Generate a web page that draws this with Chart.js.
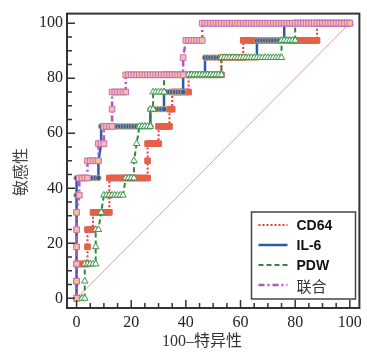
<!DOCTYPE html>
<html>
<head>
<meta charset="utf-8">
<script src="https://cdn.jsdelivr.net/npm/chart.js@4.4.1/dist/chart.umd.min.js"></script>
<style>
  html, body { margin: 0; padding: 0; background: #fff; }
  #wrap { width: 367px; height: 352px; }
</style>
</head>
<body>
<div id="wrap"><canvas id="roc" width="367" height="352"></canvas></div>
<script>
// axis ticks (both axes use the same 0-100 scale)
const tickLabels = [0, 20, 40, 60, 80, 100];
const minorTicks = [0, 5, 10, 15, 20, 25, 30, 35, 40, 45, 50, 55, 60, 65, 70, 75, 80, 85, 90, 95, 100];

const seriesNames = ['CD64', 'IL-6', 'PDW', '联合'];
const xTitle = '100–特异性';
const yTitle = '敏感性';

// ROC points: [100-specificity, sensitivity]
const cd64Roc = [
  [0,0],[0,6.25],[0,12.5],[1,12.5],[2,12.5],[3,12.5],[4,12.5],
  [4,18.75],[4,25],[5,25],[6,25],
  [6,31.25],[7,31.25],[8,31.25],[9,31.25],[10,31.25],[11,31.25],[12,31.25],
  [12,37.5],[12,43.75],[13,43.75],[14,43.75],[15,43.75],[16,43.75],[17,43.75],[18,43.75],[19,43.75],
  [20,43.75],[21,43.75],[22,43.75],[23,43.75],[24,43.75],[25,43.75],[26,43.75],
  [26,50],[26,56.25],[27,56.25],[28,56.25],[29,56.25],[30,56.25],
  [30,62.5],[31,62.5],[32,62.5],[33,62.5],[34,62.5],
  [34,68.75],[35,68.75],
  [35,75],[36,75],[37,75],[38,75],[39,75],[40,75],[41,75],
  [41,81.25],[42,81.25],[43,81.25],[44,81.25],[45,81.25],[46,81.25],[47,81.25],[48,81.25],[49,81.25],
  [50,81.25],[51,81.25],[52,81.25],[53,81.25],
  [53,87.5],[54,87.5],[55,87.5],[56,87.5],[57,87.5],[58,87.5],[59,87.5],[60,87.5],[61,87.5],
  [61,93.75],[62,93.75],[63,93.75],[64,93.75],[65,93.75],[66,93.75],[67,93.75],[68,93.75],[69,93.75],
  [70,93.75],[71,93.75],[72,93.75],[73,93.75],[74,93.75],[75,93.75],[76,93.75],[77,93.75],[78,93.75],
  [79,93.75],[80,93.75],[81,93.75],[82,93.75],[83,93.75],[84,93.75],[85,93.75],[86,93.75],[87,93.75],[88,93.75],
  [88,100],[89,100],[90,100],[91,100],[92,100],[93,100],[94,100],[95,100],[96,100],[97,100],[98,100],[99,100],[100,100]
];

const il6Roc = [
  [0,0],[0,6.25],[0,12.5],[0,18.75],[0,25],[0,31.25],[0,37.5],[0,43.75],
  [1,43.75],[2,43.75],[3,43.75],[4,43.75],[5,43.75],[6,43.75],[7,43.75],[8,43.75],
  [8,50],[9,56.25],[9,62.5],
  [10,62.5],[11,62.5],[12,62.5],[13,62.5],[14,62.5],[15,62.5],[16,62.5],[17,62.5],[18,62.5],
  [19,62.5],[20,62.5],[21,62.5],[22,62.5],[23,62.5],[24,62.5],[25,62.5],[26,62.5],[27,62.5],
  [27,68.75],[28,68.75],[29,68.75],[30,68.75],[31,68.75],[32,68.75],
  [32,75],[33,75],[34,75],[35,75],[36,75],[37,75],[38,75],[39,75],
  [39,81.25],[40,81.25],[41,81.25],[42,81.25],[43,81.25],[44,81.25],[45,81.25],[46,81.25],[47,81.25],
  [47,87.5],[48,87.5],[49,87.5],[50,87.5],[51,87.5],[52,87.5],[53,87.5],[54,87.5],[55,87.5],[56,87.5],
  [57,87.5],[58,87.5],[59,87.5],[60,87.5],[61,87.5],[62,87.5],[63,87.5],[64,87.5],[65,87.5],[66,87.5],
  [66,93.75],[67,93.75],[68,93.75],[69,93.75],[70,93.75],[71,93.75],[72,93.75],[73,93.75],[74,93.75],[75,93.75],[76,93.75],
  [76,100],[77,100],[78,100],[79,100],[80,100],[81,100],[82,100],[83,100],[84,100],[85,100],[86,100],[87,100],
  [88,100],[89,100],[90,100],[91,100],[92,100],[93,100],[94,100],[95,100],[96,100],[97,100],[98,100],[99,100],[100,100]
];

const pdwRoc = [
  [0,0],[1,0],[2,0],[3,0],[3,6.25],[3,12.5],[4,12.5],[5,12.5],[6,12.5],[7,12.5],
  [7,18.75],[7,25],[8,25],[9,31.25],
  [10,37.5],[11,37.5],[12,37.5],[13,37.5],[14,37.5],[15,37.5],[16,37.5],[17,37.5],
  [18,43.75],[19,43.75],[20,43.75],[21,43.75],
  [21,50],[22,56.25],[23,62.5],[24,62.5],[25,62.5],[26,62.5],[27,62.5],
  [27,68.75],[28,68.75],[28,75],[29,75],[30,75],[31,75],[32,75],
  [32,81.25],[33,81.25],[34,81.25],[35,81.25],[36,81.25],[37,81.25],[38,81.25],[39,81.25],[40,81.25],
  [41,81.25],[42,81.25],[43,81.25],[44,81.25],[45,81.25],[46,81.25],[47,81.25],[48,81.25],[49,81.25],
  [50,81.25],[51,81.25],[52,81.25],[53,81.25],
  [53,87.5],[54,87.5],[55,87.5],[56,87.5],[57,87.5],[58,87.5],[59,87.5],[60,87.5],[61,87.5],[62,87.5],
  [63,87.5],[64,87.5],[65,87.5],[66,87.5],[67,87.5],[68,87.5],[69,87.5],[70,87.5],[71,87.5],[72,87.5],
  [73,87.5],[74,87.5],[75,87.5],
  [75,93.75],[76,93.75],[77,93.75],[78,93.75],[79,93.75],[80,93.75],
  [80,100],[81,100],[82,100],[83,100],[84,100],[85,100],[86,100],[87,100],[88,100],[89,100],[90,100],
  [91,100],[92,100],[93,100],[94,100],[95,100],[96,100],[97,100],[98,100],[99,100],[100,100]
];

const combinedRoc = [
  [0,0],[0,6.25],[0,12.5],[0,18.75],[0,25],[0,31.25],
  [1,37.5],[1,43.75],[2,43.75],[3,43.75],[4,43.75],
  [4,50],[5,50],[6,50],[7,50],[8,50],
  [8,56.25],[9,56.25],[10,56.25],
  [10,62.5],[11,62.5],[12,62.5],[13,62.5],
  [13,68.75],
  [13,75],[14,75],[15,75],[16,75],[17,75],[18,75],
  [18,81.25],[19,81.25],[20,81.25],[21,81.25],[22,81.25],[23,81.25],[24,81.25],[25,81.25],[26,81.25],
  [27,81.25],[28,81.25],[29,81.25],[30,81.25],[31,81.25],[32,81.25],[33,81.25],[34,81.25],[35,81.25],
  [36,81.25],[37,81.25],[38,81.25],[39,81.25],
  [39,87.5],
  [40,93.75],[41,93.75],[42,93.75],[43,93.75],[44,93.75],[45,93.75],[46,93.75],
  [46,100],[47,100],[48,100],[49,100],[50,100],[51,100],[52,100],[53,100],[54,100],[55,100],[56,100],
  [57,100],[58,100],[59,100],[60,100],[61,100],[62,100],[63,100],[64,100],[65,100],[66,100],[67,100],
  [68,100],[69,100],[70,100],[71,100],[72,100],[73,100],[74,100],[75,100],[76,100],[77,100],[78,100],
  [79,100],[80,100],[81,100],[82,100],[83,100],[84,100],[85,100],[86,100],[87,100],[88,100],[89,100],
  [90,100],[91,100],[92,100],[93,100],[94,100],[95,100],[96,100],[97,100],[98,100],[99,100],[100,100]
];

const refLine = [[0,0],[100,100]];

const toXY = pts => pts.map(p => ({ x: p[0], y: p[1] }));

const serif = "'Liberation Serif', 'Noto Sans CJK SC', serif";

// frame round the plot, inward tick marks and the two axis titles
const frameTicks = {
    id: 'frameTicks',
    afterDatasetsDraw(chart) {
        const { ctx, chartArea: a, scales } = chart;
        ctx.save();
        ctx.strokeStyle = '#333';
        ctx.lineWidth = 1.5;
        ctx.beginPath();
        for (const v of minorTicks) {
            const len = tickLabels.includes(v) ? 8 : 5;
            const px = scales.x.getPixelForValue(v);
            ctx.moveTo(px, a.bottom);
            ctx.lineTo(px, a.bottom - len);
            const py = scales.y.getPixelForValue(v);
            ctx.moveTo(a.left, py);
            ctx.lineTo(a.left + len, py);
        }
        ctx.stroke();
        ctx.lineWidth = 2;
        ctx.strokeRect(a.left, a.top, a.right - a.left, a.bottom - a.top);

        ctx.font = '16px ' + serif;
        ctx.fillStyle = '#333';
        ctx.textAlign = 'center';
        ctx.textBaseline = 'middle';
        ctx.fillText(xTitle, 202, 342);
        ctx.translate(22, 172);
        ctx.rotate(-Math.PI / 2);
        ctx.fillStyle = '#444';
        ctx.fillText(yTitle, 0, 0);
        ctx.restore();
    }
};

// boxed legend in the lower right corner of the plot
const boxLegend = {
    id: 'boxLegend',
    afterDraw(chart) {
        const ctx = chart.ctx;
        const left = 251.5, top = 212, w = 104, h = 87;
        ctx.save();
        ctx.fillStyle = '#fff';
        ctx.fillRect(left, top, w, h);
        ctx.strokeStyle = '#444';
        ctx.lineWidth = 1.5;
        ctx.strokeRect(left, top, w, h);
        chart.data.datasets.slice(0, 4).forEach((ds, i) => {
            const y = top + 13 + i * 20;
            ctx.strokeStyle = ds.borderColor;
            ctx.lineWidth = ds.borderWidth;
            ctx.setLineDash(ds.borderDash || []);
            ctx.beginPath();
            ctx.moveTo(left + 7, y);
            ctx.lineTo(left + 36, y);
            ctx.stroke();
            ctx.setLineDash([]);
            const cjk = /[\u4e00-\u9fff]/.test(ds.label);
            ctx.font = cjk ? "15px 'Noto Sans CJK SC'" : "bold 14px 'Liberation Sans', Arial";
            ctx.fillStyle = cjk ? '#333' : '#111';
            ctx.textBaseline = 'middle';
            ctx.textAlign = 'left';
            ctx.fillText(ds.label, left + 45, y + 1);
        });
        ctx.restore();
    }
};

new Chart(document.getElementById('roc'), {
    type: 'scatter',
    data: {
        datasets: [
            {
                label: seriesNames[0], data: toXY(cd64Roc), order: 4, showLine: true,
                borderColor: '#e23b3b', borderWidth: 2, borderDash: [2, 2],
                pointStyle: 'rect', pointRadius: 4, pointBackgroundColor: '#f0602c',
                pointBorderColor: '#d9606a', pointBorderWidth: 1
            },
            {
                label: seriesNames[1], data: toXY(il6Roc), order: 3, showLine: true,
                borderColor: '#2f5aa8', borderWidth: 2.5, borderDash: [],
                pointStyle: 'circle', pointRadius: 2.8, pointBackgroundColor: '#2c5cb0',
                pointBorderColor: '#d9b35c', pointBorderWidth: 0.8
            },
            {
                label: seriesNames[2], data: toXY(pdwRoc), order: 2, showLine: true,
                borderColor: '#2e8b3e', borderWidth: 2, borderDash: [5, 3],
                pointStyle: 'triangle', pointRadius: 3.8, pointBackgroundColor: '#ffffff',
                pointBorderColor: '#3c9a4c', pointBorderWidth: 1
            },
            {
                label: seriesNames[3], data: toXY(combinedRoc), order: 1, showLine: true,
                borderColor: '#b455c0', borderWidth: 2.5, borderDash: [6, 3, 2, 3],
                pointStyle: 'rect', pointRadius: 4, pointBackgroundColor: '#f8c096',
                pointBorderColor: '#c46dc6', pointBorderWidth: 1
            },
            {
                label: 'ref', data: toXY(refLine), order: 6, showLine: true,
                borderColor: '#dba0a0', borderWidth: 1, pointRadius: 0
            }
        ]
    },
    options: {
        responsive: false,
        animation: false,
        events: [],
        devicePixelRatio: 1,
        layout: { padding: { top: 13, right: 4, left: 0, bottom: 0 } },
        plugins: { legend: { display: false }, tooltip: { enabled: false } },
        scales: {
            x: {
                type: 'linear', min: -3.5, max: 103.5,
                afterBuildTicks: s => { s.ticks = minorTicks.map(v => ({ value: v })); },
                afterFit: s => { s.height = 44; },
                grid: { display: false, drawTicks: false },
                border: { display: false },
                ticks: {
                    autoSkip: false, maxRotation: 0, padding: 5, color: '#222',
                    font: { family: serif, size: 16 },
                    callback: v => tickLabels.includes(v) ? String(v) : ''
                }
            },
            y: {
                type: 'linear', min: -3.5, max: 103.5,
                afterBuildTicks: s => { s.ticks = minorTicks.map(v => ({ value: v })); },
                afterFit: s => { s.width = 67; },
                grid: { display: false, drawTicks: false },
                border: { display: false },
                ticks: {
                    autoSkip: false, padding: 4, color: '#222',
                    font: { family: serif, size: 16 },
                    callback: v => tickLabels.includes(v) ? String(v) : ''
                }
            }
        }
    },
    plugins: [frameTicks, boxLegend]
});
</script>
</body>
</html>
